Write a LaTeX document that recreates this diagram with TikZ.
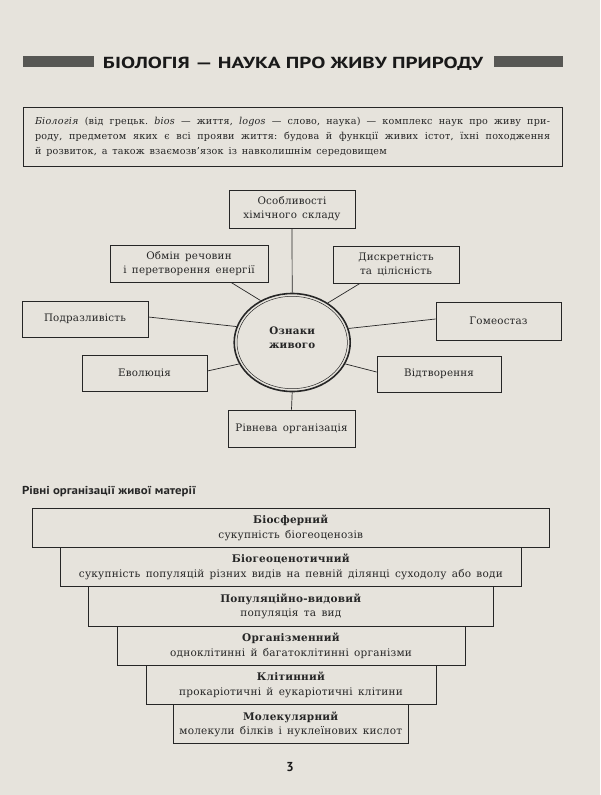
\documentclass[tikz,border=0pt]{standalone}
\usepackage{fontspec}
\setmainfont[LetterSpace=2,WordSpace=1.5]{DejaVu Serif}
\newfontfamily\hsans{PT Sans}
\usetikzlibrary{shapes.geometric,calc}
\definecolor{paper}{HTML}{E6E3DC}
\definecolor{ink}{HTML}{262626}
\definecolor{barc}{HTML}{575754}
\frenchspacing
\begin{document}
\begin{tikzpicture}[x=1pt,y=-1pt,
  every node/.style={inner sep=0pt,text=ink},
  mbox/.style={draw=ink,line width=0.8pt,align=center,font=\fontsize{10.3}{14}\selectfont},
  lvl/.style={draw=ink,line width=0.8pt,align=center,minimum height=39.3pt,font=\fontsize{10.5}{14.5}\selectfont},
  link/.style={draw=ink,line width=0.7pt}]
\fill[paper] (0,0) rectangle (600,795);
\useasboundingbox (0,0) rectangle (600,795);
% title
\fill[barc] (23,56) rectangle (94,67);
\fill[barc] (494,56) rectangle (563,67);
\node[anchor=base,text=black!90] (title) at (293,68.5) {\resizebox{380pt}{\height}{\hsans\fontsize{16}{16}\selectfont\bfseries БІОЛОГІЯ — НАУКА ПРО ЖИВУ ПРИРОДУ}};
% definition
\node[draw=ink,line width=0.8pt,minimum width=539pt,minimum height=59pt] (defbox) at (292.5,136.5) {};
\node[text width=515pt,align=justify,font=\fontsize{9.6}{15}\selectfont] (deftext) at (defbox.center) {\textit{Біологія} (від грецьк. \textit{bios} — життя, \textit{logos} — слово, наука) — комплекс наук про живу при-\linebreak роду, предметом яких є всі прояви життя: будова й функції живих істот, їхні походження\linebreak й розвиток, а також взаємозв'язок із навколишнім середовищем};
% mind map
\node[draw=ink,ellipse,line width=1.6pt,minimum width=116pt,minimum height=98pt] (e) at (292.2,342.5) {};
\draw[ink,line width=0.5pt] (e.center) ellipse [x radius=55.2pt,y radius=46.2pt];
\node[align=center,font=\fontsize{10.3}{14}\selectfont\bfseries] (etext) at ([yshift=5pt]e.center) {Ознаки\\живого};
\node[mbox,minimum width=126pt,minimum height=38pt] (osob) at (292,209) {Особливості\\хімічного складу};
\node[mbox,minimum width=158pt,minimum height=37pt] (obm) at (189,263.5) {Обмін речовин\\і перетворення енергії};
\node[mbox,minimum width=126pt,minimum height=37pt] (dys) at (396,264.5) {Дискретність\\та цілісність};
\node[mbox,minimum width=126pt,minimum height=36pt] (podr) at (85,319) {Подразливість};
\node[mbox,minimum width=125pt,minimum height=38pt] (hom) at (498.5,321) {Гомеостаз};
\node[mbox,minimum width=125pt,minimum height=36pt] (evo) at (144.5,373) {Еволюція};
\node[mbox,minimum width=124pt,minimum height=36pt] (vid) at (439,374) {Відтворення};
\node[mbox,minimum width=127pt,minimum height=37pt] (rivn) at (291.5,428.5) {Рівнева організація};
\draw[link] (osob.south) -- (e.north);
\draw[link] ($(obm.south)+(42,0)$) -- (e.127.6);
\draw[link] ($(dys.south)+(-36,0)$) -- (e.48.5);
\draw[link] ($(podr.east)+(0,-2)$) -- (e.164.6);
\draw[link] ($(hom.west)+(0,-2)$) -- (e.14.4);
\draw[link] ($(evo.east)+(0,-2)$) -- (e.202.1);
\draw[link] ($(vid.west)+(0,-2)$) -- (e.338.5);
\draw[link] (e.south) -- (rivn.north);
% levels
\node[anchor=base west] (lvlhead) at (22,494) {\resizebox{174pt}{\height}{\hsans\fontsize{11.5}{12}\selectfont\bfseries Рівні організації живої матерії}};
\node[lvl,minimum width=516.5pt] (l1) at (290.75,527.65) {\textbf{Біосферний}\\сукупність біогеоценозів};
\node[lvl,minimum width=460.3pt] (l2) at (290.85,566.95) {\textbf{Біогеоценотичний}\\сукупність популяцій різних видів на певній ділянці суходолу або води};
\node[lvl,minimum width=404.3pt] (l3) at (290.85,606.25) {\textbf{Популяційно-видовий}\\популяція та вид};
\node[lvl,minimum width=348pt] (l4) at (291,645.55) {\textbf{Організменний}\\одноклітинні й багатоклітинні організми};
\node[lvl,minimum width=290pt] (l5) at (291,684.85) {\textbf{Клітинний}\\прокаріотичні й еукаріотичні клітини};
\node[lvl,minimum width=234.5pt] (l6) at (290.75,724.15) {\textbf{Молекулярний}\\молекули білків і нуклеїнових кислот};
% page number
\node[anchor=base,text=black!90] (pnum) at (290,771) {\hsans\fontsize{13}{13}\selectfont\bfseries 3};
\end{tikzpicture}
\end{document}
